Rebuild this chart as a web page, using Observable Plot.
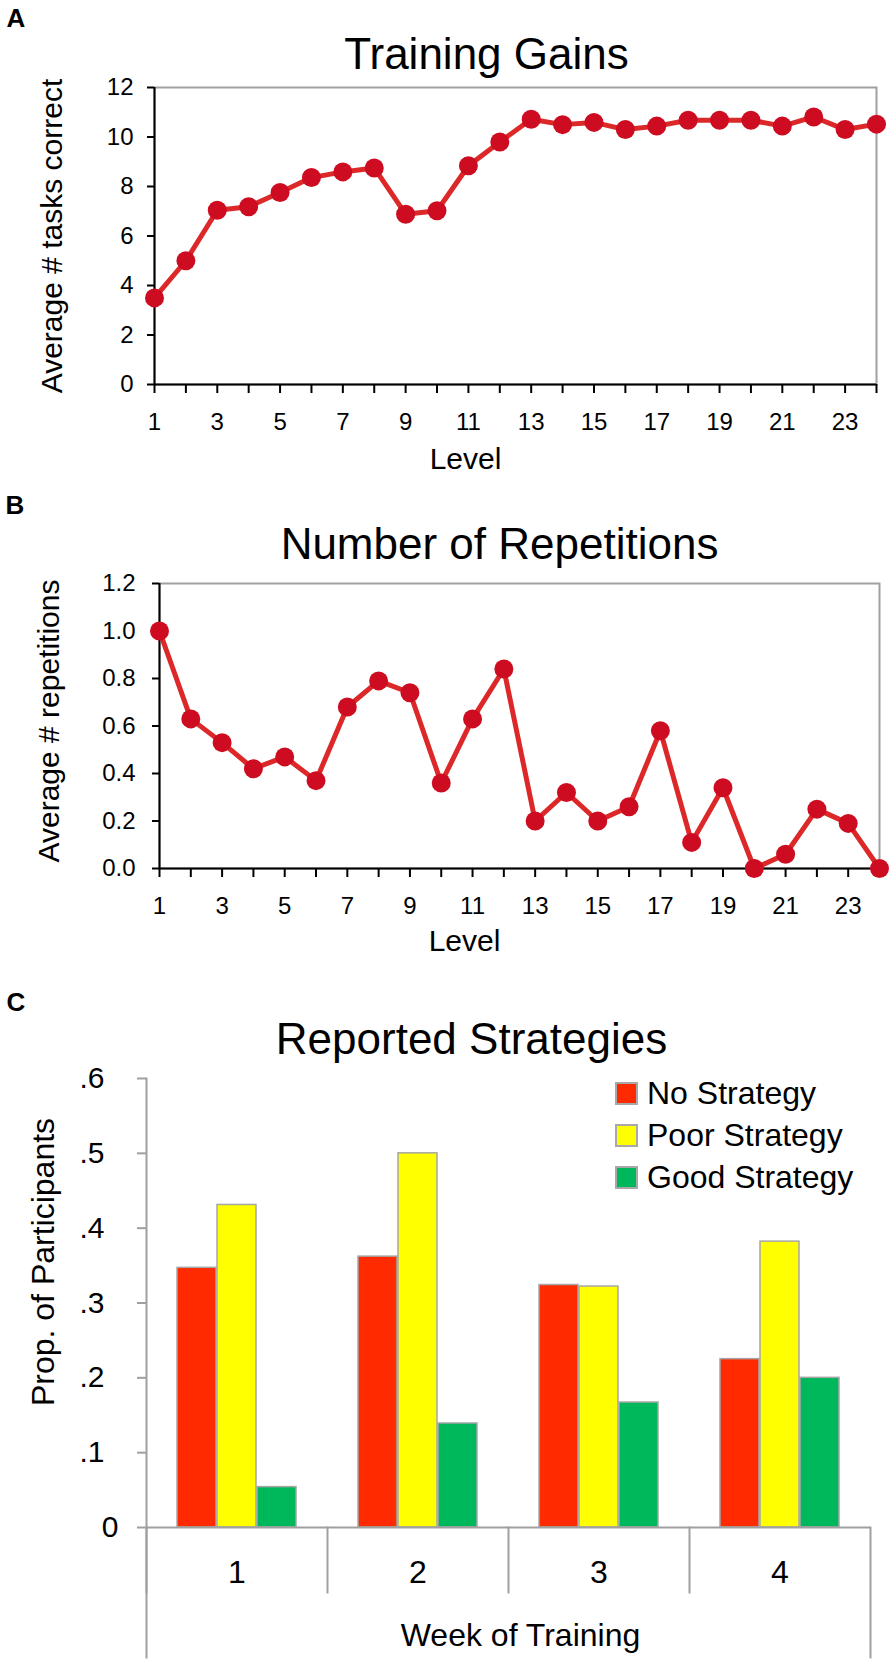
<!DOCTYPE html>
<html>
<head>
<meta charset="utf-8">
<script src="https://cdn.jsdelivr.net/npm/d3@7"></script>
<script src="https://cdn.jsdelivr.net/npm/@observablehq/plot@0.6"></script>
<style>
  body { margin: 0; background: #fff; font-family: "Liberation Sans", Arial, sans-serif; }
  #root { position: relative; width: 892px; height: 1662px; overflow: hidden; }
  #root svg { display: block; }
  .panel { position: relative; }
  .legend { position: absolute; left: 615px; top: 112px; color: #000; }
  .legend .item { display: flex; align-items: center; height: 42px; font-size: 32px; white-space: nowrap; }
  .legend .sw { width: 19px; height: 19px; border: 2px solid #a8a8a8; margin-right: 9px; flex: none; }
</style>
</head>
<body>
<div id="root"></div>
<script>
// ---- data ----
const levels = [1, 2, 3, 4, 5, 6, 7, 8, 9, 10, 11, 12, 13, 14, 15, 16, 17, 18, 19, 20, 21, 22, 23, 24];
const trainingGains = [3.50, 5.00, 7.04, 7.18, 7.76, 8.36, 8.59, 8.75, 6.88, 7.02, 8.84, 9.80,
                       10.72, 10.50, 10.59, 10.30, 10.44, 10.68, 10.68, 10.68, 10.44, 10.81, 10.30, 10.52];
const repetitions = [1.00, 0.63, 0.53, 0.42, 0.47, 0.37, 0.68, 0.79, 0.74, 0.36, 0.63, 0.84,
                     0.20, 0.32, 0.20, 0.26, 0.58, 0.11, 0.34, 0.00, 0.06, 0.25, 0.19, 0.00];
const gainTicks = [0, 2, 4, 6, 8, 10, 12];
const repTicks = [0, 0.2, 0.4, 0.6, 0.8, 1.0, 1.2];

const weeks = [1, 2, 3, 4];
const strategies = ["No Strategy", "Poor Strategy", "Good Strategy"];
const noStrategy = [0.347, 0.362, 0.324, 0.225];
const poorStrategy = [0.431, 0.500, 0.322, 0.382];
const goodStrategy = [0.054, 0.139, 0.167, 0.200];
const strategyColors = ["#ff2a00", "#ffff00", "#00b85c"];
const propTicks = [0.1, 0.2, 0.3, 0.4, 0.5, 0.6];
const propZeroTick = [0];

// ---- styles ----
const font = '"Liberation Sans", Arial, sans-serif';
const lineColor = "#dc2828";
const dotColor = "#cd0c21";
const frameGray = "#a0a0a0";
const baseStyle = {fontFamily: font, fontSize: "24px", color: "#000", background: "#fff", overflow: "visible"};

// ---- Panel A ----
const gainsData = levels.map((level, i) => ({level, value: trainingGains[i]}));
const chartA = Plot.plot({
  width: 892, height: 480,
  marginLeft: 154, marginRight: 16, marginTop: 87, marginBottom: 96,
  style: baseStyle,
  x: {domain: [1, 24]},
  y: {domain: [0, 12]},
  marks: [
    Plot.frame({stroke: frameGray, strokeWidth: 2}),
    Plot.ruleY([0], {stroke: "#000", strokeWidth: 2}),
    Plot.ruleX([1], {stroke: "#000", strokeWidth: 2}),
    Plot.axisX({ticks: levels, tickFormat: d => d % 2 ? String(d) : "", tickSize: 9, tickPadding: 19, fontSize: 24, strokeWidth: 2, stroke: "#000", fill: "#000", label: null}),
    Plot.axisY({ticks: gainTicks, tickFormat: d => String(d), tickSize: 7, tickPadding: 14, fontSize: 24, strokeWidth: 2, stroke: "#000", fill: "#000", label: null}),
    Plot.line(gainsData, {x: "level", y: "value", stroke: lineColor, strokeWidth: 5}),
    Plot.dot(gainsData, {x: "level", y: "value", r: 9.5, fill: dotColor}),
    Plot.text(["Training Gains"], {text: d => d, frameAnchor: "top", textAnchor: "middle", dx: -29, dy: -50, lineAnchor: "top", fontSize: 44}),
    Plot.text(["A"], {text: d => d, frameAnchor: "top-left", textAnchor: "start", dx: -148, dy: -79, lineAnchor: "top", fontSize: 26, fontWeight: "bold"}),
    Plot.text(["Average # tasks correct"], {text: d => d, frameAnchor: "left", textAnchor: "middle", rotate: -90, dx: -114, lineAnchor: "top", fontSize: 30}),
    Plot.text(["Level"], {text: d => d, frameAnchor: "bottom", textAnchor: "middle", dx: -50, dy: 63, lineAnchor: "top", fontSize: 30})
  ]
});

// ---- Panel B ----
const repData = levels.map((level, i) => ({level, value: repetitions[i]}));
const chartB = Plot.plot({
  width: 892, height: 480,
  marginLeft: 159, marginRight: 13, marginTop: 103, marginBottom: 92,
  style: baseStyle,
  x: {domain: [1, 24]},
  y: {domain: [0, 1.2]},
  marks: [
    Plot.frame({stroke: frameGray, strokeWidth: 2}),
    Plot.ruleY([0], {stroke: "#000", strokeWidth: 2}),
    Plot.ruleX([1], {stroke: "#000", strokeWidth: 2}),
    Plot.axisX({ticks: levels, tickFormat: d => d % 2 ? String(d) : "", tickSize: 9, tickPadding: 19, fontSize: 24, strokeWidth: 2, stroke: "#000", fill: "#000", label: null}),
    Plot.axisY({ticks: repTicks, tickFormat: d => d.toFixed(1), tickSize: 7, tickPadding: 17, fontSize: 24, strokeWidth: 2, stroke: "#000", fill: "#000", label: null}),
    Plot.line(repData, {x: "level", y: "value", stroke: lineColor, strokeWidth: 5}),
    Plot.dot(repData, {x: "level", y: "value", r: 9.5, fill: dotColor}),
    Plot.text(["Number of Repetitions"], {text: d => d, frameAnchor: "top", textAnchor: "middle", dx: -20, dy: -56, lineAnchor: "top", fontSize: 44}),
    Plot.text(["B"], {text: d => d, frameAnchor: "top-left", textAnchor: "start", dx: -154, dy: -88, lineAnchor: "top", fontSize: 26, fontWeight: "bold"}),
    Plot.text(["Average # repetitions"], {text: d => d, frameAnchor: "left", textAnchor: "middle", rotate: -90, dx: -122, dy: -5, lineAnchor: "top", fontSize: 30}),
    Plot.text(["Level"], {text: d => d, frameAnchor: "bottom", textAnchor: "middle", dx: -55, dy: 61, lineAnchor: "top", fontSize: 30})
  ]
});

// ---- Panel C ----
const seriesValues = [noStrategy, poorStrategy, goodStrategy];
const strategyData = weeks.flatMap((week, i) =>
  strategies.map((strategy, j) => ({week, strategy, value: seriesValues[j][i]})));
const chartC = Plot.plot({
  width: 892, height: 702,
  marginLeft: 146, marginRight: 22, marginTop: 118, marginBottom: 135,
  style: baseStyle,
  fx: {domain: weeks, padding: 0},
  x: {domain: strategies, paddingInner: 0.025, paddingOuter: 0.72, axis: null},
  y: {domain: [0, 0.6]},
  color: {domain: strategies, range: strategyColors},
  marks: [
    Plot.barY(strategyData, {fx: "week", x: "strategy", y: "value", fill: "strategy", stroke: "#a6a6a6", strokeWidth: 1.5}),
    Plot.ruleY([0], {stroke: frameGray, strokeWidth: 2}),
    Plot.frame({anchor: "left", facetAnchor: "left", stroke: frameGray, strokeWidth: 2, insetBottom: -130}),
    Plot.frame({anchor: "left", stroke: frameGray, strokeWidth: 2, insetTop: 449, insetBottom: -65}),
    Plot.frame({anchor: "right", facetAnchor: "right", stroke: frameGray, strokeWidth: 2, insetTop: 449, insetBottom: -130}),
    Plot.axisY({ticks: propTicks, tickFormat: d => d.toFixed(1).replace(/^0/, ""), tickSize: 9, tickPadding: 33, fontSize: 30, strokeWidth: 2, stroke: frameGray, fill: "#000", label: null}),
    Plot.axisY({ticks: propZeroTick, tickFormat: d => String(d), tickSize: 9, tickPadding: 19, fontSize: 30, strokeWidth: 2, stroke: frameGray, fill: "#000", label: null}),
    Plot.axisFx({anchor: "bottom", tickSize: 0, tickPadding: 33, fontSize: 32, fill: "#000", label: null}),
    Plot.text(["Reported Strategies"], {text: d => d, facet: "super", frameAnchor: "top", textAnchor: "middle", dx: -37, dy: -56, lineAnchor: "top", fontSize: 44}),
    Plot.text(["C"], {text: d => d, facet: "super", frameAnchor: "top-left", textAnchor: "start", dx: -140, dy: -86, lineAnchor: "top", fontSize: 26, fontWeight: "bold"}),
    Plot.text(["Prop. of Participants"], {text: d => d, facet: "super", frameAnchor: "left", textAnchor: "middle", rotate: -90, dx: -115, dy: -41, lineAnchor: "top", fontSize: 32}),
    Plot.text(["Week of Training"], {text: d => d, facet: "super", frameAnchor: "bottom", textAnchor: "middle", dx: 12, dy: 96, lineAnchor: "top", fontSize: 32})
  ]
});

// ---- legend (HTML) ----
const legend = document.createElement("div");
legend.className = "legend";
strategies.forEach((s, i) => {
  const item = document.createElement("div");
  item.className = "item";
  const sw = document.createElement("span");
  sw.className = "sw";
  sw.style.background = strategyColors[i];
  const label = document.createElement("span");
  label.textContent = s;
  item.append(sw, label);
  legend.append(item);
});

const root = document.getElementById("root");
root.append(chartA, chartB);
const panelC = document.createElement("div");
panelC.className = "panel";
panelC.append(chartC, legend);
root.append(panelC);
</script>
</body>
</html>
